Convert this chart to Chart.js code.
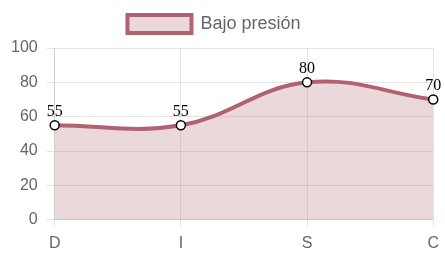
<!DOCTYPE html>
<html>
<head>
<meta charset="utf-8">
<script src="https://cdn.jsdelivr.net/npm/chart.js@4"></script>
<style>
  html, body { margin: 0; padding: 0; background: #fff; }
  #wrap { width: 445px; height: 261px; }
</style>
</head>
<body>
<div id="wrap"><canvas id="chart"></canvas></div>
<script>
const labels = ["D", "I", "S", "C"];
const values = [55, 55, 80, 70];
const seriesName = "Bajo presión";
const yTicks = [0, 20, 40, 60, 80, 100];

// draws the value above each point
const valueLabels = {
  id: "valueLabels",
  afterDatasetsDraw(chart) {
    const ctx = chart.ctx;
    const meta = chart.getDatasetMeta(0);
    ctx.save();
    ctx.font = "16px 'Liberation Serif', 'Times New Roman', serif";
    ctx.fillStyle = "#000";
    ctx.textAlign = "center";
    ctx.textBaseline = "bottom";
    meta.data.forEach(function (pt, i) {
      ctx.fillText(values[i], pt.x, pt.y - 6);
    });
    ctx.restore();
  }
};

// extra room under the legend, and legend nudged a bit left
const legendTweak = {
  id: "legendTweak",
  beforeInit(chart) {
    const legend = chart.legend;
    const fit = legend.fit;
    const draw = legend.draw;
    legend.fit = function () {
      fit.call(legend);
      legend.height += 5;
    };
    legend.draw = function () {
      chart.ctx.save();
      chart.ctx.translate(-6, 0);
      draw.apply(legend, arguments);
      chart.ctx.restore();
    };
  }
};

new Chart(document.getElementById("chart"), {
  type: "line",
  data: {
    labels: labels,
    datasets: [{
      label: seriesName,
      data: values,
      borderColor: "#b0636e",
      backgroundColor: "rgba(176, 99, 110, 0.25)",
      borderWidth: 4,
      fill: true,
      tension: 0.4,
      pointRadius: 4.5,
      pointBorderWidth: 1.5,
      pointBorderColor: "#000",
      pointBackgroundColor: "#fff"
    }]
  },
  options: {
    responsive: true,
    maintainAspectRatio: false,
    animation: false,
    layout: { padding: { left: 2, right: 7, top: 4, bottom: 2 } },
    plugins: {
      legend: {
        display: true,
        labels: {
          boxWidth: 64,
          boxHeight: 18,
          padding: 11,
          color: "#666",
          font: { size: 18, family: "Arial, 'Liberation Sans', sans-serif" }
        }
      },
      tooltip: { enabled: false }
    },
    scales: {
      y: {
        min: 0,
        max: 100,
        afterBuildTicks(axis) {
          axis.ticks = yTicks.map(v => ({ value: v }));
        },
        ticks: {
          padding: 9,
          color: "#666",
          font: { size: 16, family: "Arial, 'Liberation Sans', sans-serif" }
        },
        grid: { color: "rgba(0,0,0,0.1)" }
      },
      x: {
        ticks: {
          padding: 6,
          color: "#666",
          font: { size: 16, family: "Arial, 'Liberation Sans', sans-serif" }
        },
        grid: { color: "rgba(0,0,0,0.1)" }
      }
    }
  },
  plugins: [valueLabels, legendTweak]
});
</script>
</body>
</html>
